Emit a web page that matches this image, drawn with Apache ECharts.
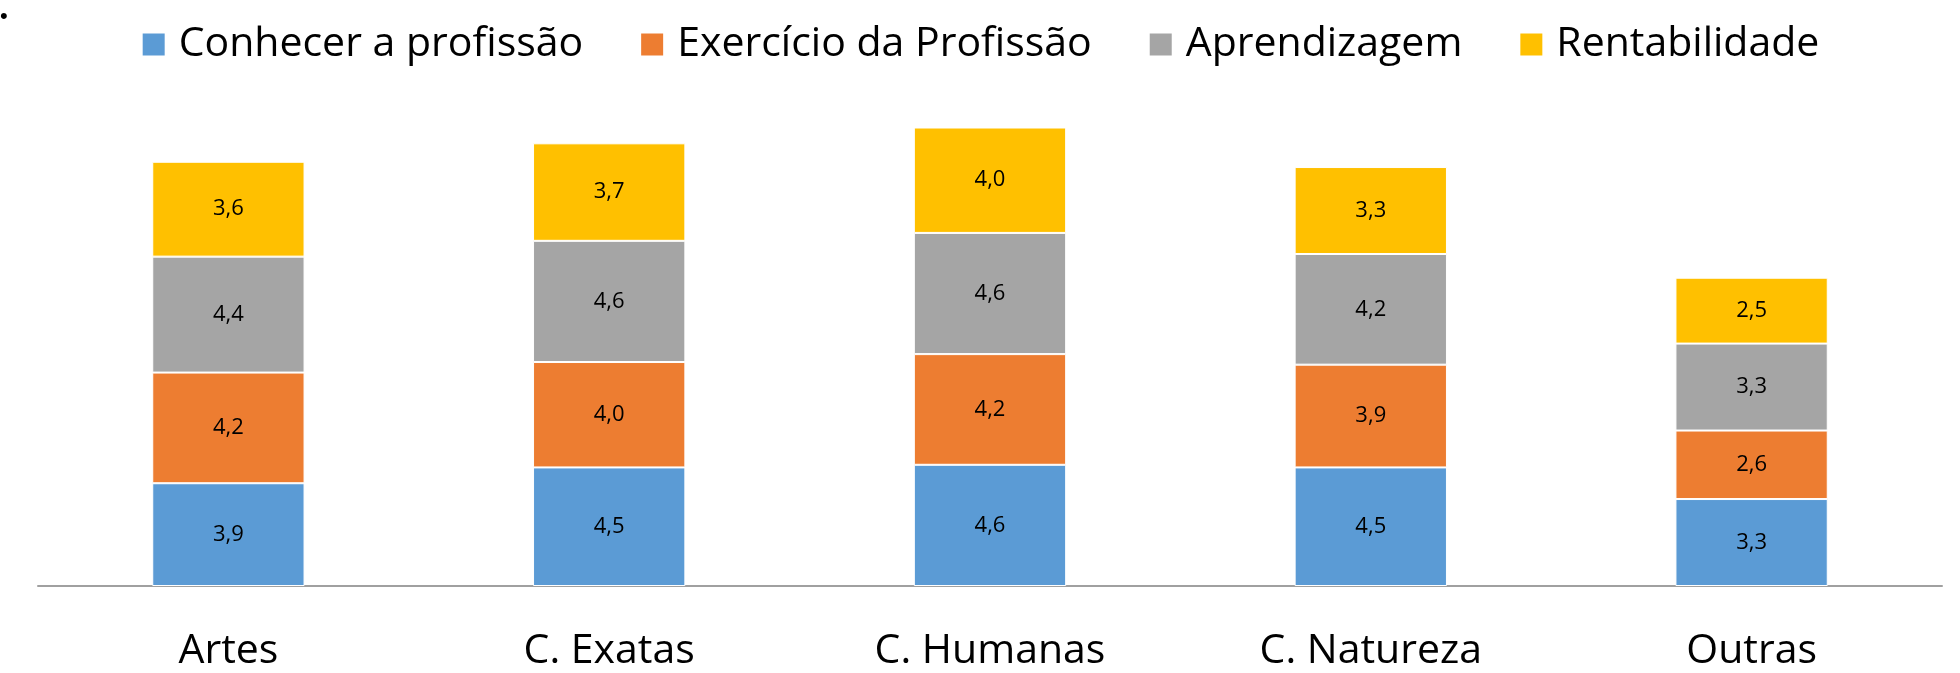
<!DOCTYPE html>
<html>
<head>
<meta charset="utf-8">
<script src="https://cdn.jsdelivr.net/npm/echarts@6/dist/echarts.min.js"></script>
<style>
html,body{margin:0;padding:0;background:#fff;}
#chart{width:1960px;height:673px;}
</style>
</head>
<body>
<div id="chart"></div>
<script>
var categories = ["Artes", "C. Exatas", "C. Humanas", "C. Natureza", "Outras"];
var seriesNames = ["Conhecer a profissão", "Exercício da Profissão", "Aprendizagem", "Rentabilidade"];
var conhecer = [3.9, 4.5, 4.6, 4.5, 3.3];
var exercicio = [4.2, 4.0, 4.2, 3.9, 2.6];
var aprendizagem = [4.4, 4.6, 4.6, 4.2, 3.3];
var rentabilidade = [3.6, 3.7, 4.0, 3.3, 2.5];
var colors = ["#5B9BD5", "#ED7D31", "#A5A5A5", "#FFC000"];

var fontFam = "'Open Sans', sans-serif";

function mkSeries(name, data, color){
	return {
		name: name,
		type: 'bar',
		stack: 'total',
		barWidth: '40%',
		data: data,
		itemStyle: {color: color, borderColor: '#fff', borderWidth: 1},
		label: {
			show: true,
			position: 'inside',
			color: '#000',
			fontFamily: fontFam,
			fontSize: 22,
			formatter: function(p){ return p.value.toFixed(1).replace('.', ','); }
		}
	};
}

var myChart = echarts.init(document.getElementById('chart'));
var option = {
	animation: false,
	color: colors,
	legend: {
		top: 19,
		left: 'center',
		itemWidth: 24,
		itemHeight: 24,
		itemGap: 56,
		icon: 'rect',
		textStyle: {fontFamily: fontFam, fontSize: 41, color: '#000', padding: [0, 0, 0, 8]},
		data: seriesNames
	},
	grid: {left: 38, right: 18, top: 59, bottom: 87},
	xAxis: {
		type: 'category',
		data: categories,
		axisTick: {show: false},
		axisLine: {lineStyle: {color: '#A0A0A0', width: 2}},
		axisLabel: {fontFamily: fontFam, fontSize: 41, color: '#000', margin: 45}
	},
	yAxis: {
		type: 'value',
		min: 0,
		max: 20,
		show: false
	},
	graphic: [{type: 'text', left: 0, top: 6, style: {text: '•', fontSize: 22, fill: '#000'}}],
	series: [
		mkSeries(seriesNames[0], conhecer, colors[0]),
		mkSeries(seriesNames[1], exercicio, colors[1]),
		mkSeries(seriesNames[2], aprendizagem, colors[2]),
		mkSeries(seriesNames[3], rentabilidade, colors[3])
	]
};
myChart.setOption(option);
</script>
</body>
</html>
